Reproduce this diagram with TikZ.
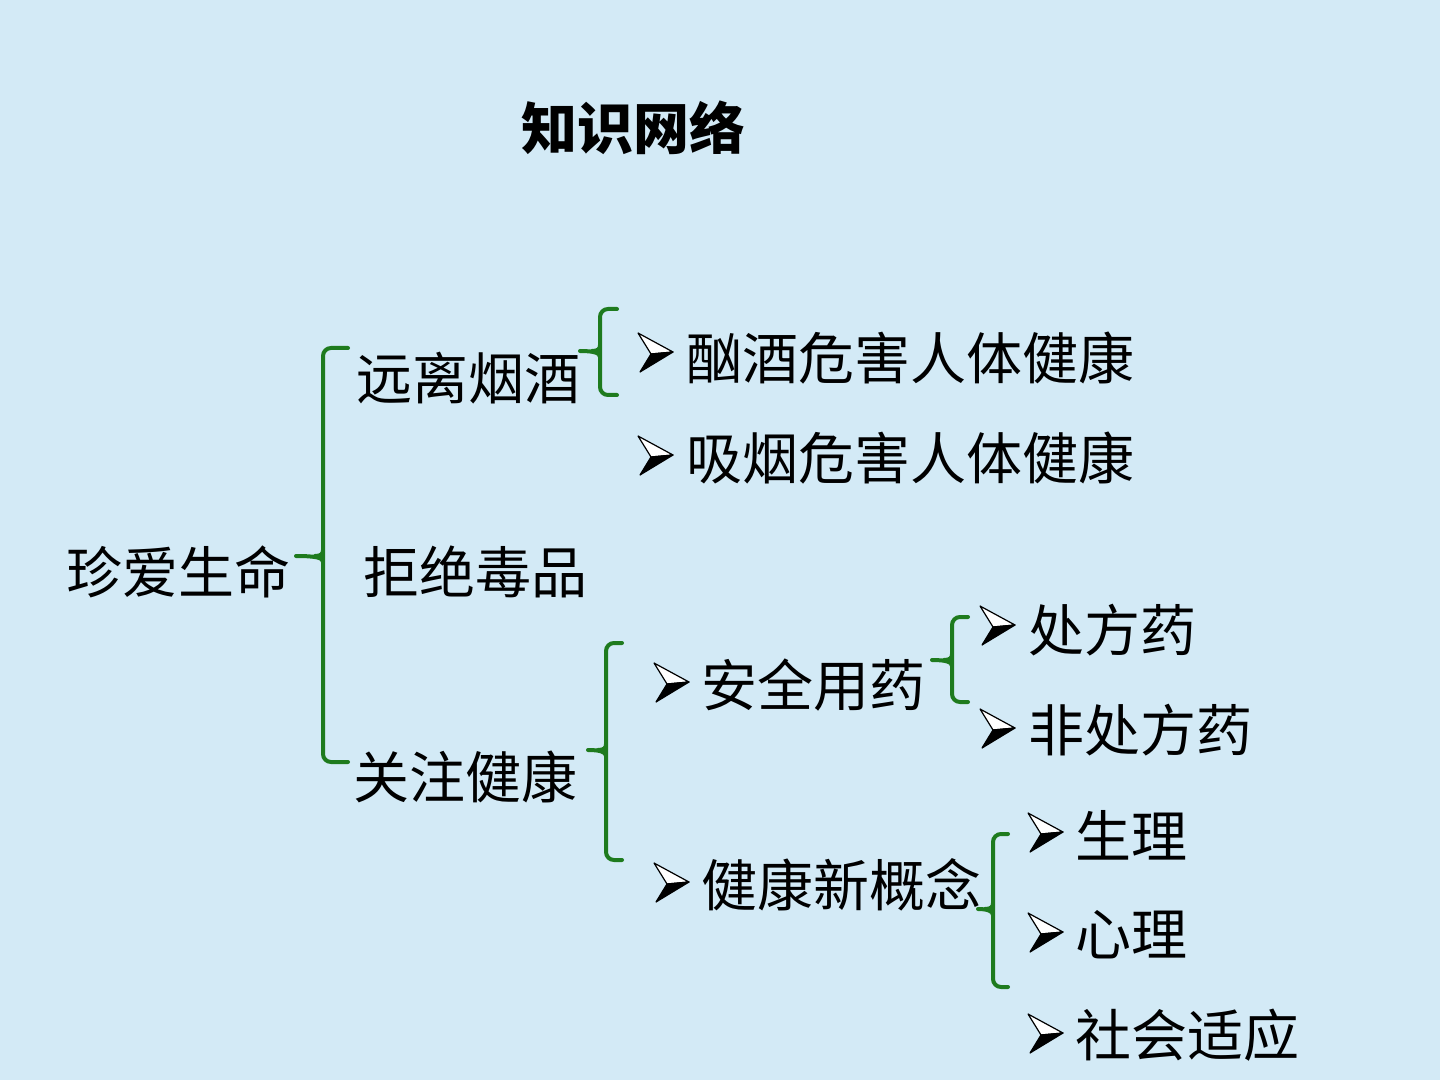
\documentclass[tikz,border=0pt]{standalone}
\usepackage{fontspec}
\newfontfamily\cjk{Noto Sans CJK SC}
\definecolor{bgblue}{HTML}{D3EAF6}
\definecolor{brgreen}{HTML}{1E7B1E}
\begin{document}
\begin{tikzpicture}[x=0.5pt,y=-0.5pt,
  txt/.style={anchor=west,inner sep=0pt,font=\cjk\fontsize{28pt}{30pt}\selectfont},
  ttl/.style={inner sep=0pt,font=\cjk\bfseries\fontsize{28pt}{30pt}\selectfont},
  br/.style={draw=brgreen,line width=2pt,rounded corners=4pt,line cap=round},
  bul/.pic={
    \filldraw[fill=white,draw=black,line width=0.6pt,line join=round] (-17,-19) -- (18,0) -- (-4,2) -- cycle;
    \filldraw[black,line width=0.6pt,line join=round] (-4,2) -- (18,0) -- (-15,20) -- cycle;
  }]
\fill[bgblue] (0,0) rectangle (1440,1080);
\useasboundingbox (0,0) rectangle (1440,1080);

% title
\node[ttl] (title) at (633,128) {知识网络};

% level 1 and 2
\node[txt] (root) at (66,572) {珍爱生命};
\node[txt] (yl) at (356,378) {远离烟酒};
\node[txt] (jj) at (363,572) {拒绝毒品};
\node[txt] (gz) at (353,777) {关注健康};

% level 3
\pic at (655,352) {bul};
\node[txt] (xj) at (686,358) {酗酒危害人体健康};
\pic at (655,455) {bul};
\node[txt] (xy) at (686,458) {吸烟危害人体健康};
\pic at (671,682) {bul};
\node[txt] (aq) at (701,685) {安全用药};
\pic at (671,882) {bul};
\node[txt] (xg) at (701,885) {健康新概念};

% level 4
\pic at (997,625) {bul};
\node[txt] (cf) at (1028,630) {处方药};
\pic at (997,728) {bul};
\node[txt] (fcf) at (1028,730) {非处方药};
\pic at (1045,832) {bul};
\node[txt] (sl) at (1075,835) {生理};
\pic at (1045,932) {bul};
\node[txt] (xl) at (1075,935) {心理};
\pic at (1045,1033) {bul};
\node[txt] (sh) at (1075,1035) {社会适应};

% braces
\newcommand\mybrace[6]{% x, ytop, ymid, ybot, xleft, xright
  \draw[br] (#6,#2) -- (#1,#2) -- (#1,#4) -- (#6,#4);
  \draw[br,rounded corners=0pt] (#5,#3) .. controls (#1-6,#3) and (#1,#3+2) .. (#1,#3+6);
  \draw[br,rounded corners=0pt] (#1-8,#3) .. controls (#1-2,#3) and (#1,#3-2) .. (#1,#3-6);
}
\mybrace{323}{348}{556}{762}{296}{348}
\mybrace{600}{309}{351}{395}{580}{617}
\mybrace{606}{643}{750}{860}{588}{622}
\mybrace{952}{617}{660}{702}{932}{968}
\mybrace{993}{834}{909}{987}{978}{1008}
\end{tikzpicture}
\end{document}
